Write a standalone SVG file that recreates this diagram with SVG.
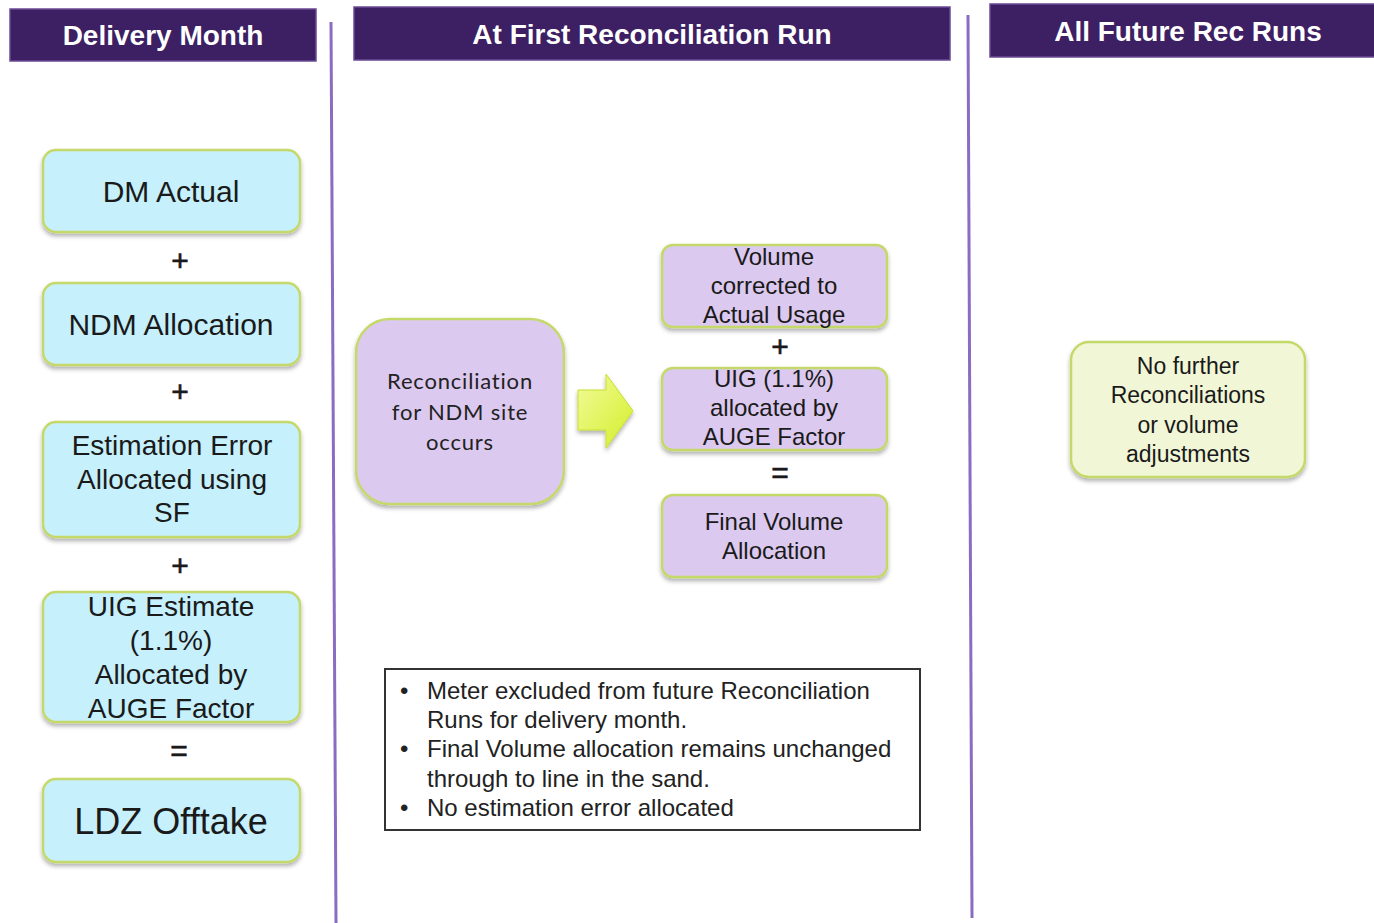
<svg xmlns="http://www.w3.org/2000/svg" width="1374" height="923" viewBox="0 0 1374 923">
<style>
.hdr{fill:#3d1f63;stroke:#6a4b94;stroke-width:1.5}
.hdrt{font-family:"Liberation Sans",Arial,sans-serif;font-weight:bold;font-size:28px;fill:#ffffff;text-anchor:middle}
.cyan{fill:#c6f0fc;stroke:#c4d96a;stroke-width:2.5}
.lav{fill:#dcc9ef;stroke:#c4d96a;stroke-width:2.5}
.pale{fill:#f1f6d6;stroke:#c4d96a;stroke-width:2.5}
.t{font-family:"Liberation Sans",Arial,sans-serif;fill:#1a1a1a;text-anchor:middle}
.t28{font-size:28px}
.t30{font-size:30px}
.t24{font-size:24px}
.t23{font-size:23px}
.op{font-family:"Liberation Sans",Arial,sans-serif;font-size:30px;fill:#1a1a1a;stroke:#1a1a1a;stroke-width:0.6;text-anchor:middle}
.cal{font-family:Lato,"Open Sans",sans-serif;font-size:22px;fill:#222;text-anchor:middle;letter-spacing:0.8px}
.bul{font-family:"Liberation Sans",Arial,sans-serif;font-size:24px;fill:#222}
.div{stroke:#8a6cc2;stroke-width:3;fill:none}
</style>
<defs>
<filter id="sh" x="-10%" y="-10%" width="120%" height="130%">
<feDropShadow dx="0" dy="3" stdDeviation="2" flood-color="#000" flood-opacity="0.3"/>
</filter>
<linearGradient id="ag" x1="0" y1="0" x2="1" y2="1">
<stop offset="0" stop-color="#f2fb9a"/>
<stop offset="1" stop-color="#d4ee2a"/>
</linearGradient>
</defs>
<rect width="1374" height="923" fill="#ffffff"/>

<g id="dividers">
<line class="div" x1="331" y1="22" x2="336" y2="923"/>
<line class="div" x1="968" y1="15" x2="972" y2="918"/>
</g>

<g id="header-delivery">
<rect class="hdr" x="10" y="9" width="306" height="52"/>
<text class="hdrt" x="163" y="45">Delivery Month</text>
</g>
<g id="header-first">
<rect class="hdr" x="354" y="7" width="596" height="53"/>
<text class="hdrt" x="652" y="44">At First Reconciliation Run</text>
</g>
<g id="header-future">
<rect class="hdr" x="990" y="4" width="390" height="53"/>
<text class="hdrt" x="1188" y="41">All Future Rec Runs</text>
</g>

<g id="dm-actual">
<rect class="cyan" x="43" y="150" width="257" height="82" rx="13" filter="url(#sh)"/>
<text class="t t30" x="171" y="202">DM Actual</text>
</g>
<text class="op" x="180" y="271">+</text>
<g id="ndm-allocation">
<rect class="cyan" x="43" y="283" width="257" height="82" rx="13" filter="url(#sh)"/>
<text class="t t30" x="171" y="335">NDM Allocation</text>
</g>
<text class="op" x="180" y="402">+</text>
<g id="estimation-error">
<rect class="cyan" x="43" y="422" width="257" height="115" rx="13" filter="url(#sh)"/>
<text class="t t28" x="172" y="455">Estimation Error</text>
<text class="t t28" x="172" y="489">Allocated using</text>
<text class="t t28" x="172" y="522">SF</text>
</g>
<text class="op" x="180" y="576">+</text>
<g id="uig-estimate">
<rect class="cyan" x="43" y="592" width="257" height="130" rx="13" filter="url(#sh)"/>
<text class="t t28" x="171" y="616">UIG Estimate</text>
<text class="t t28" x="171" y="650">(1.1%)</text>
<text class="t t28" x="171" y="684">Allocated by</text>
<text class="t t28" x="171" y="718">AUGE Factor</text>
</g>
<text class="op" x="179" y="761">=</text>
<g id="ldz-offtake">
<rect class="cyan" x="43" y="779" width="257" height="83" rx="13" filter="url(#sh)"/>
<text class="t" x="171" y="834" font-size="36">LDZ Offtake</text>
</g>

<g id="reconciliation">
<rect class="lav" x="356" y="319" width="208" height="185" rx="34" filter="url(#sh)"/>
<text class="cal" x="460" y="389">Reconciliation</text>
<text class="cal" x="460" y="420">for NDM site</text>
<text class="cal" x="460" y="450">occurs</text>
</g>

<g id="connectors">
<path d="M578,390 L606,390 L606,374 L633,411 L606,448 L606,430 L578,430 Z" fill="url(#ag)" stroke="#c8e02a" stroke-width="1" filter="url(#sh)"/>
</g>

<g id="volume-corrected">
<rect class="lav" x="662" y="245" width="225" height="82" rx="11" filter="url(#sh)"/>
<text class="t t24" x="774" y="265">Volume</text>
<text class="t t24" x="774" y="294">corrected to</text>
<text class="t t24" x="774" y="323">Actual Usage</text>
</g>
<text class="op" x="780" y="357">+</text>
<g id="uig-allocated">
<rect class="lav" x="662" y="368" width="225" height="82" rx="11" filter="url(#sh)"/>
<text class="t t24" x="774" y="387">UIG (1.1%)</text>
<text class="t t24" x="774" y="416">allocated by</text>
<text class="t t24" x="774" y="445">AUGE Factor</text>
</g>
<text class="op" x="780" y="483">=</text>
<g id="final-volume">
<rect class="lav" x="662" y="495" width="225" height="82" rx="11" filter="url(#sh)"/>
<text class="t t24" x="774" y="530">Final Volume</text>
<text class="t t24" x="774" y="559">Allocation</text>
</g>

<g id="no-further">
<rect class="pale" x="1071" y="342" width="234" height="135" rx="18" filter="url(#sh)"/>
<text class="t t23" x="1188" y="374">No further</text>
<text class="t t23" x="1188" y="403">Reconciliations</text>
<text class="t t23" x="1188" y="433">or volume</text>
<text class="t t23" x="1188" y="462">adjustments</text>
</g>

<g id="notes">
<rect x="385" y="669" width="535" height="161" fill="#ffffff" stroke="#333333" stroke-width="2"/>
<text class="bul" x="400" y="699">•</text>
<text class="bul" x="427" y="699">Meter excluded from future Reconciliation</text>
<text class="bul" x="427" y="728">Runs for delivery month.</text>
<text class="bul" x="400" y="757">•</text>
<text class="bul" x="427" y="757">Final Volume allocation remains unchanged</text>
<text class="bul" x="427" y="787">through to line in the sand.</text>
<text class="bul" x="400" y="816">•</text>
<text class="bul" x="427" y="816">No estimation error allocated</text>
</g>
</svg>
